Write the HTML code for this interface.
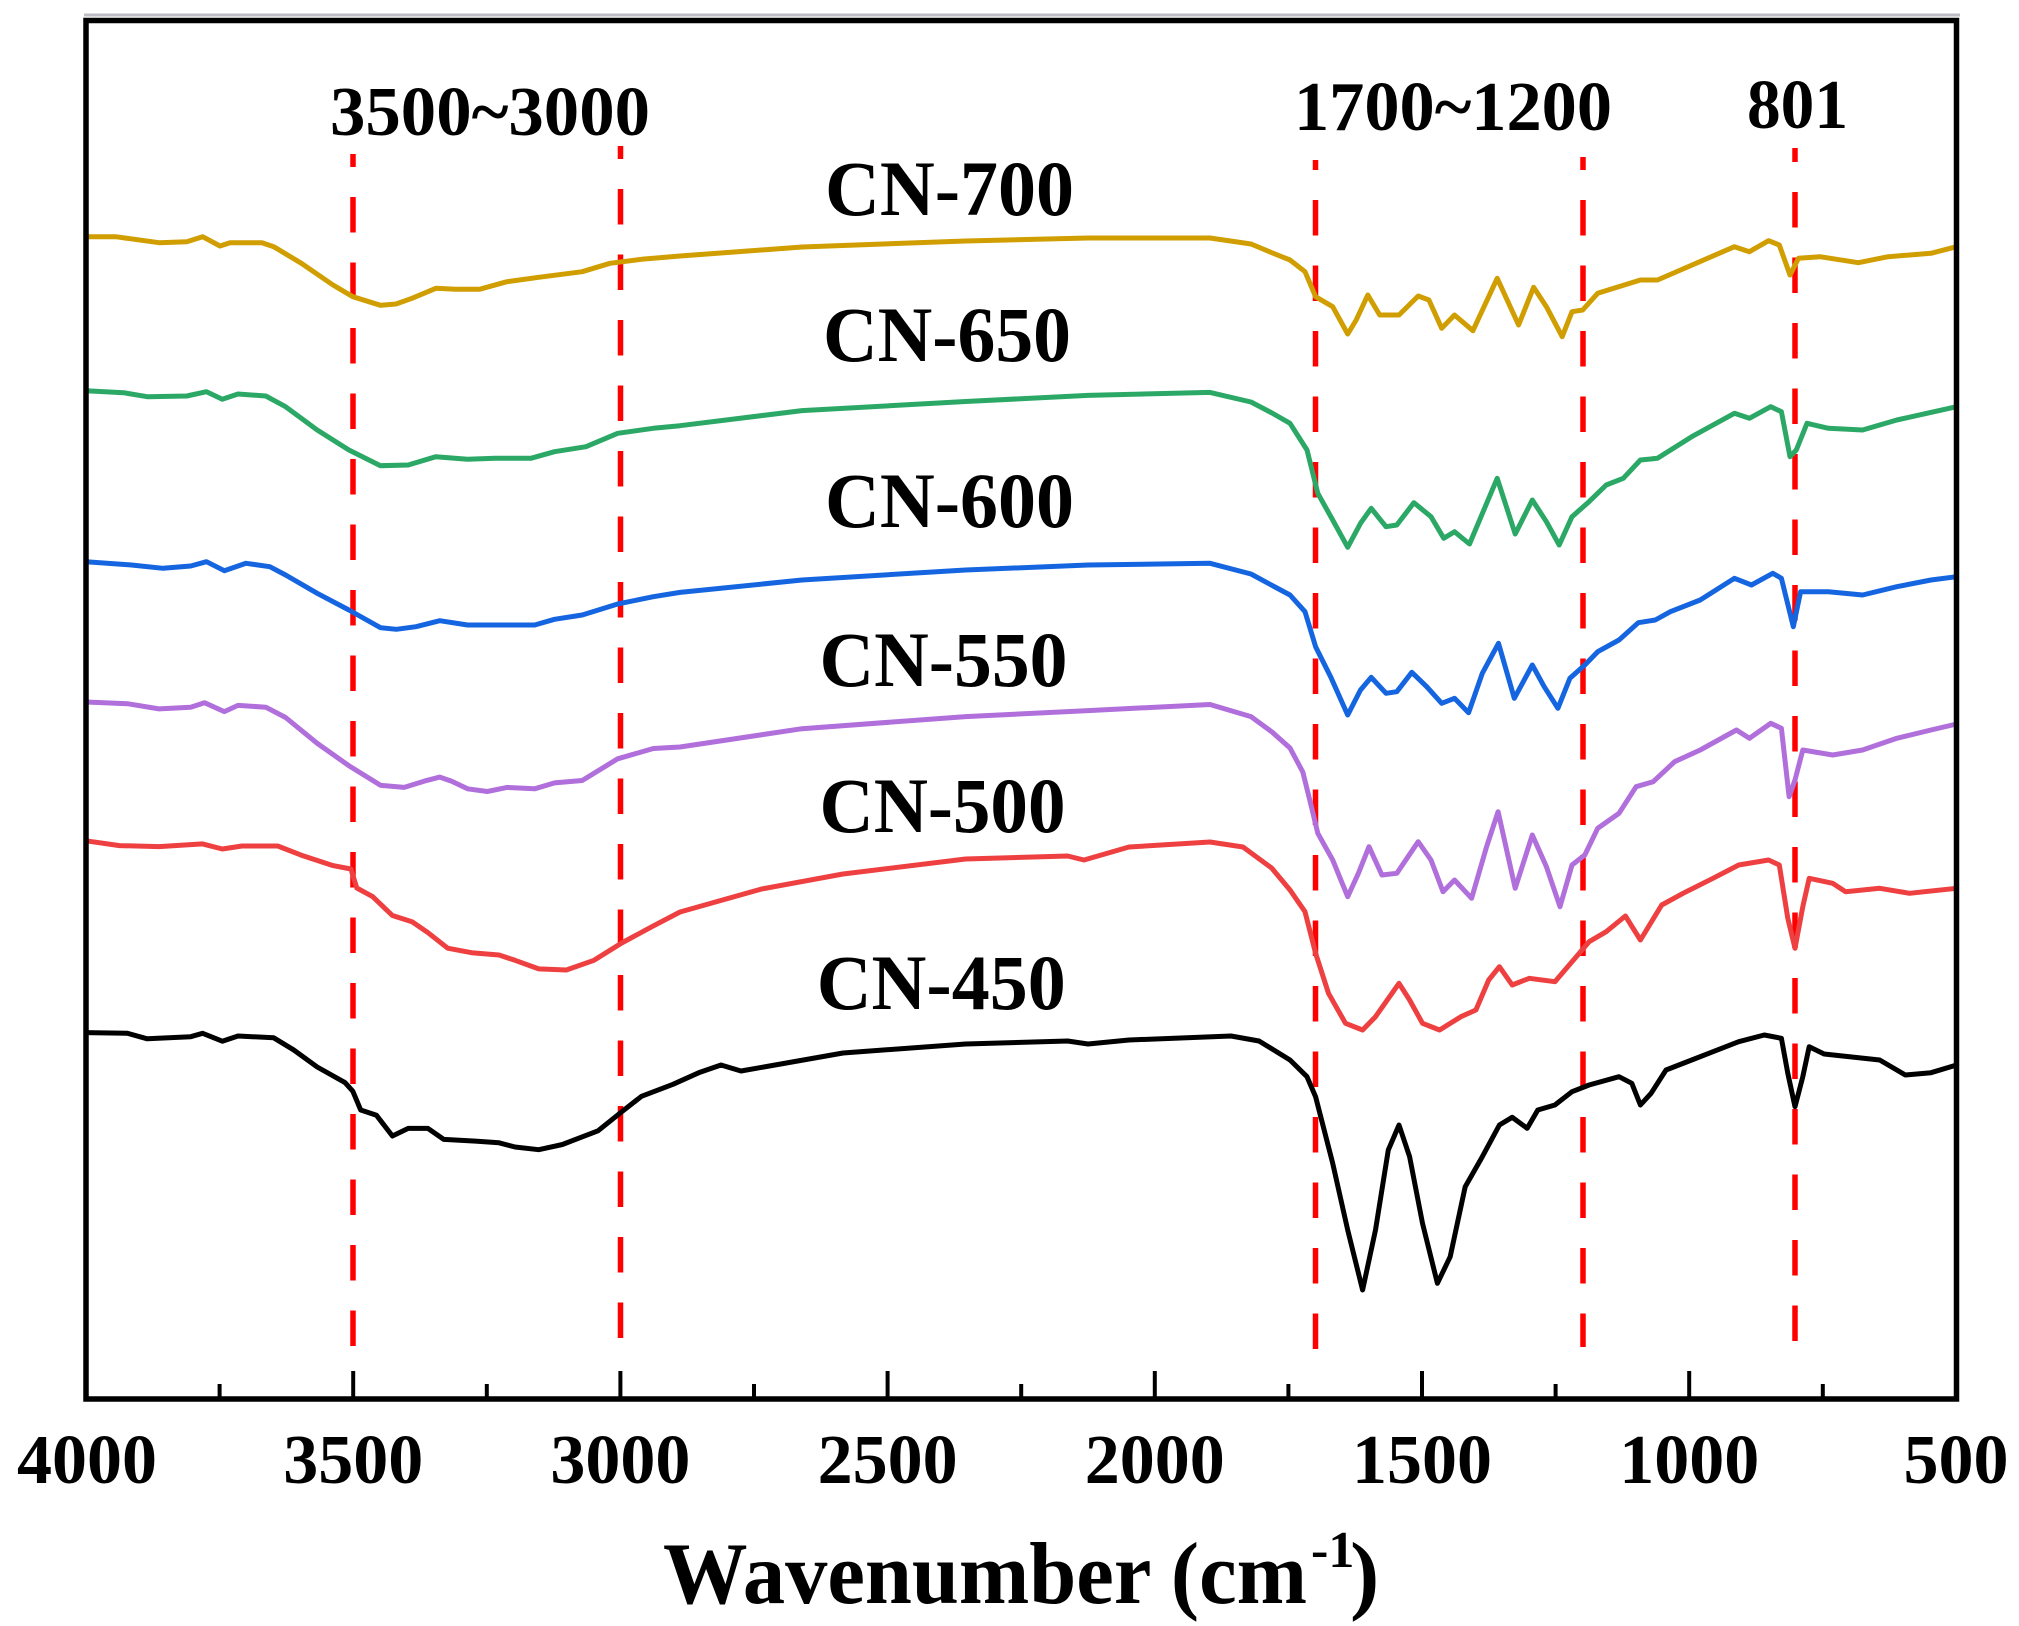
<!DOCTYPE html>
<html>
<head>
<meta charset="utf-8">
<style>
html,body{margin:0;padding:0;background:#fff;}
svg{display:block;}
text{font-family:"Liberation Serif","Times New Roman",serif;font-weight:bold;fill:#000;}
</style>
</head>
<body>
<svg width="2019" height="1626" viewBox="0 0 2019 1626" xmlns="http://www.w3.org/2000/svg">
<rect x="0" y="0" width="2019" height="1626" fill="#fff"/>

<!-- top shadow line -->
<line x1="84" y1="15" x2="1960" y2="15" stroke="#bcbcc4" stroke-width="3"/>

<!-- red dashed guide lines -->
<g stroke="#ff0000" stroke-width="5.5" fill="none" stroke-dasharray="35.5 30">
<line x1="353" y1="154" x2="353" y2="1347" stroke-dashoffset="22.5"/>
<line x1="620.5" y1="146" x2="620.5" y2="1338" stroke-dashoffset="22.5"/>
<line x1="1315.5" y1="160" x2="1315.5" y2="1352" stroke-dashoffset="25.5"/>
<line x1="1583" y1="157" x2="1583" y2="1347" stroke-dashoffset="22.5"/>
<line x1="1795" y1="148" x2="1795" y2="1342" stroke-dashoffset="21.5"/>
</g>

<!-- curves -->
<g fill="none" stroke-width="5" stroke-linejoin="round" stroke-linecap="round">
<polyline stroke="#D09E00" points="86,236.7 115.6,236.7 159,242.7 186.8,241.7 202.6,236.7 220,246 230,242.7 262,242.7 273.7,246.7 301.4,263.3 333,285 352.8,296.7 380.5,305.3 396,304 412,298.3 435.9,288.3 455.6,289.3 479.4,289.3 507,281.7 538.7,277.3 582.2,271.7 610,263.3 641.5,259.3 680,256 802,247 965.6,241 1088,238 1210,238 1251,244 1275,254 1290,260 1305,271.7 1315.6,296.7 1332.7,306.7 1347.7,334 1356.2,320 1367.8,295 1379.7,315 1399,315 1418.2,296 1428.9,300 1441.7,328.3 1454.5,315 1472.9,330.7 1497.2,278.3 1518.6,325 1533.6,287.3 1546.4,306.7 1562.2,336.7 1572,311.7 1582.7,310 1597.7,293.3 1640.4,280 1657.5,280 1734.4,246.7 1749.4,251.7 1768.6,240.7 1779.3,245 1790,275 1798.5,258.3 1819.9,256.7 1858.3,262.7 1888.2,256.7 1931,253.3 1956.6,246.7"/>
<polyline stroke="#2CA866" points="86,390.7 123.5,392.7 147.2,396.7 186.8,396 206.5,391.7 222.3,399.3 238,394 265.8,396 285.6,406.7 317.2,430 348.9,450 380.5,465.7 408.2,465 435.9,456.7 467.5,459.3 495,458.3 530.8,458.3 554.5,451.7 586,446.7 617.7,433.3 653.3,428.3 680,425.7 802,410.6 965.6,401.5 1088,395.4 1210,392.4 1251,402 1272,413 1290,423.3 1307,450 1317.8,493.3 1332.7,520 1347.7,547.3 1360.5,523.3 1371.2,508.3 1386,526.7 1396.8,525 1413.9,502.7 1431,516.7 1443.8,538.3 1454.5,531.7 1469.5,544 1497.2,478.3 1515.2,534 1532.3,500 1546.4,521.7 1559.2,545 1572,516.7 1589,501.7 1606.2,485 1623.3,478.3 1640.4,460 1657.5,458.3 1691.7,436.7 1734.4,413.3 1749.4,418.3 1770.7,406.7 1781.4,411.7 1790,456.7 1796.3,450 1807,423.3 1828.4,428.3 1862.6,430 1896.8,420 1956.6,406.7"/>
<polyline stroke="#1565E0" points="86,561.7 131.4,565 163,568.3 190.7,566 206.5,561.7 224.3,570.7 246,563.3 269.8,566.7 285.6,575 317.2,593.3 348.9,610 380.5,627.7 396.3,629.3 416,626.7 439.8,620.7 467.5,625 534.7,625 554.5,619.3 582.2,615 617.7,604 653.3,596.7 680,592.4 802,580 965.6,570 1088,565 1210,563.3 1251,574 1275,587 1290,595 1305,611.7 1315.6,646.7 1330.6,676.7 1347.7,715 1360.5,690 1371.2,677.3 1386.1,693.3 1396.8,691.7 1411.8,672.3 1426.7,686.7 1441.7,703.3 1454.5,698.3 1468.6,712.7 1482.3,673.3 1498.5,643.3 1514.3,698.3 1532.3,665 1544.2,686.7 1557.9,708.3 1569.9,678.3 1584.8,665 1597.7,651.7 1619,640 1638.3,622.7 1655.3,620 1670.3,611.7 1700.2,600 1734.4,578.3 1751.5,585 1772.8,573.3 1781.4,578.3 1793.3,626.7 1800.6,591.7 1828.4,591.7 1862.6,595 1896.8,586.7 1931,580 1956.6,576.7"/>
<polyline stroke="#B06FDB" points="86,702 127.4,703.7 159,708.9 190.7,707.2 204.5,702.7 224.3,711.6 238,705.4 265.8,707.2 285.6,717.5 317.2,743.3 348.9,765.7 380.5,785.3 404.2,787.4 424,781.2 439.8,777.1 451.7,781.2 467.5,788.8 487.3,791.5 507,787.4 534.7,788.8 554.5,782.9 582.2,780.5 617.7,758.8 653.3,748.5 680,747 802,728.7 965.6,716.6 1088,710.6 1210,704.5 1251,716.6 1272,732 1290,748 1302.8,772 1311.4,806.7 1317.8,833.3 1332.7,860 1347.7,896.7 1358.4,873.3 1369,846.7 1381.9,875 1396.8,873.3 1418.2,841.7 1431,860 1443,891.7 1454.5,880 1471.6,898.3 1486.6,846.7 1498.1,811.7 1515.2,888.3 1532.3,835 1546.4,866.7 1560,906.7 1572,865 1584.8,855 1597.7,828.3 1619,813.3 1636.1,786.7 1653.2,781.7 1674.6,761.7 1700.2,750 1736.5,730 1749.4,738.3 1770.7,723.3 1781.4,728.3 1789.1,796.7 1795,780 1802.8,750 1832.7,755 1862.6,750 1896.8,738.3 1931,730 1956.6,724"/>
<polyline stroke="#EE4040" points="86,840.8 119.5,845.6 159,846.6 202.6,843.9 222.3,849 242,846 277.7,846 301.4,855.2 333,865.6 350.9,869 356.8,888 372.6,896.6 392.4,915.5 412,921.7 428,932.7 447.7,948.2 471.5,952.7 499,955 515,960.3 538.7,968.9 566.3,970 594,960.3 621.7,943 653.3,925.9 680,912 761.6,889 843,874 965.6,859 1067.6,856 1084,860 1129,847 1210,842 1243,847 1271.6,868 1290,890 1305,911.7 1315.6,953.3 1328.5,993.3 1345.5,1023.3 1362.6,1030 1375.5,1016.7 1399,983.3 1409.6,1000 1422.5,1023.3 1439.6,1030 1460.9,1016.7 1475.9,1010 1488.7,980 1499.4,966.7 1512.2,985 1529.3,978.3 1554.9,981.7 1572,961.7 1589.1,941.7 1606.2,931.7 1625.4,916 1640.4,940 1661.7,905 1683.1,893.3 1713,878.3 1738.7,865 1768.6,860 1779.3,865 1787.8,918.3 1795,948.3 1802.8,906.7 1809.2,878.3 1832.7,883.3 1845.5,891.7 1879.7,888.3 1909.6,893.3 1956.6,888.3"/>
<polyline stroke="#000000" points="86,1032.6 127.4,1033.3 147.2,1038.8 190.7,1036.7 202.6,1033.3 222.3,1041.2 238,1036 273.7,1037.8 293.5,1049.8 317.2,1067 345,1082.6 352.8,1091.2 360.7,1110 376.5,1115.3 392.4,1136 408.2,1128.4 428,1128.4 443.8,1139.4 475.4,1141.1 499,1142.8 515,1147 538.7,1149.7 562.4,1144.5 598,1130.8 621.7,1111.8 641.5,1096.3 673,1084.3 700,1072.2 721,1065 741,1071 843,1053 965.6,1044 1067.6,1041 1088,1044 1129,1040 1231,1036 1259,1041 1290,1060 1307,1076.7 1315.6,1096.7 1332.7,1163.3 1347.7,1230 1362.6,1290 1375.5,1230 1388.3,1150 1399,1125 1409.6,1156.7 1422.5,1223.3 1437.4,1283.3 1450.2,1256.7 1465.2,1186.7 1482.3,1156.7 1499.4,1125 1512.2,1117.3 1527.2,1128.3 1537.8,1110 1554.9,1105 1572,1091.7 1589.1,1085 1619,1076.7 1631.8,1083.3 1640.4,1105 1651.1,1093.3 1666,1070 1691.7,1060 1713,1051.7 1738.7,1041.7 1764.3,1035 1781.4,1038.3 1787.8,1073.3 1795,1106.7 1802.8,1076.7 1809.2,1046.7 1824.1,1054 1879.7,1060 1905.3,1075 1931,1072.7 1956.6,1065"/>
</g>

<!-- frame -->
<rect x="86" y="20.5" width="1870.5" height="1378.5" fill="none" stroke="#000" stroke-width="5.5"/>

<!-- ticks -->
<g stroke="#000" stroke-width="4">
<line x1="353.2" y1="1397" x2="353.2" y2="1371"/>
<line x1="620.4" y1="1397" x2="620.4" y2="1371"/>
<line x1="887.6" y1="1397" x2="887.6" y2="1371"/>
<line x1="1154.8" y1="1397" x2="1154.8" y2="1371"/>
<line x1="1422" y1="1397" x2="1422" y2="1371"/>
<line x1="1689.2" y1="1397" x2="1689.2" y2="1371"/>
<line x1="219.6" y1="1397" x2="219.6" y2="1384"/>
<line x1="486.8" y1="1397" x2="486.8" y2="1384"/>
<line x1="754" y1="1397" x2="754" y2="1384"/>
<line x1="1021.2" y1="1397" x2="1021.2" y2="1384"/>
<line x1="1288.4" y1="1397" x2="1288.4" y2="1384"/>
<line x1="1555.6" y1="1397" x2="1555.6" y2="1384"/>
<line x1="1822.8" y1="1397" x2="1822.8" y2="1384"/>
</g>

<!-- tick labels -->
<g font-size="70" text-anchor="middle">
<text x="87" y="1483">4000</text>
<text x="353.2" y="1483">3500</text>
<text x="620.4" y="1483">3000</text>
<text x="887.6" y="1483">2500</text>
<text x="1154.8" y="1483">2000</text>
<text x="1422" y="1483">1500</text>
<text x="1689.2" y="1483">1000</text>
<text x="1956" y="1483">500</text>
</g>

<!-- axis title -->
<text x="663" y="1603" font-size="88" textLength="644" lengthAdjust="spacingAndGlyphs">Wavenumber (cm</text>
<text x="1311" y="1567" font-size="52">-1</text>
<text x="1350" y="1603" font-size="88">)</text>

<!-- annotations -->
<text x="330" y="135" font-size="70" textLength="320" lengthAdjust="spacingAndGlyphs">3500~3000</text>
<text x="1294" y="130" font-size="70" textLength="318" lengthAdjust="spacingAndGlyphs">1700~1200</text>
<text x="1747" y="128" font-size="70" textLength="101" lengthAdjust="spacingAndGlyphs">801</text>

<!-- series labels -->
<g font-size="78">
<text x="825" y="215" textLength="249" lengthAdjust="spacingAndGlyphs">CN-700</text>
<text x="823" y="361" textLength="248" lengthAdjust="spacingAndGlyphs">CN-650</text>
<text x="825" y="527" textLength="249" lengthAdjust="spacingAndGlyphs">CN-600</text>
<text x="819.5" y="686" textLength="248" lengthAdjust="spacingAndGlyphs">CN-550</text>
<text x="819.5" y="832" textLength="246" lengthAdjust="spacingAndGlyphs">CN-500</text>
<text x="816.7" y="1009" textLength="249" lengthAdjust="spacingAndGlyphs">CN-450</text>
</g>
</svg>
</body>
</html>
